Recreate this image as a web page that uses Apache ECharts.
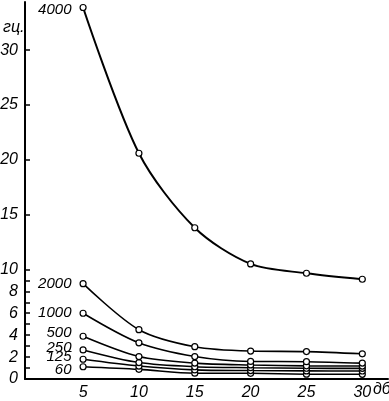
<!DOCTYPE html>
<html>
<head>
<meta charset="utf-8">
<style>html,body{margin:0;padding:0;background:#fff}#c{width:389px;height:401px}</style>
<script src="https://cdn.jsdelivr.net/npm/echarts@6/dist/echarts.min.js"></script>
</head>
<body>
<div id="c"></div>
<script>
const xValues = [5, 10, 15, 20, 25, 30];
const seriesNames = ['4000', '2000', '1000', '500', '250', '125', '60'];
const s4000 = [33.9, 20.6, 13.8, 10.5, 9.65, 9.1];
const s2000 = [8.7, 4.5, 2.95, 2.55, 2.5, 2.3];
const s1000 = [6.0, 3.3, 2.05, 1.6, 1.58, 1.45];
const s500 = [3.9, 2.05, 1.45, 1.28, 1.2, 1.18];
const s250 = [2.65, 1.5, 1.12, 1.03, 0.98, 0.97];
const s125 = [1.8, 1.18, 0.83, 0.77, 0.74, 0.73];
const s60 = [1.12, 0.88, 0.53, 0.52, 0.44, 0.43];
const yLabelValues = [0, 2, 4, 6, 8, 10, 15, 20, 25, 30];
const yTickValues = [0, 1, 2, 3, 4, 5, 6, 7, 8, 9, 10, 15, 20, 25, 30];
const xLabelValues = [5, 10, 15, 20, 25, 30];

const allData = [s4000, s2000, s1000, s500, s250, s125, s60];
const labelOffsets = [[0, 2], [0, 0], [0, 0], [0, -3], [0, -2], [0, -2], [0, 3]];
const font = "'Liberation Sans', Arial, sans-serif";

const chart = echarts.init(document.getElementById('c'), null, {renderer: 'canvas'});
const series = allData.map((vals, i) => ({
  name: seriesNames[i],
  type: 'line',
  smooth: 0.3,
  symbol: 'circle',
  symbolSize: 6,
  showAllSymbol: true,
  lineStyle: {color: '#000', width: i === 0 ? 2 : 1.6},
  itemStyle: {color: '#fff', borderColor: '#000', borderWidth: 1.2},
  data: xValues.map((x, j) => ({
    value: [x, vals[j]],
    label: j === 0 ? {
      show: true, position: 'left', distance: 8, offset: labelOffsets[i],
      formatter: seriesNames[i], color: '#000', fontSize: 15,
      fontStyle: 'italic', fontFamily: font
    } : {show: false}
  })),
  z: 10 - i
}));

chart.setOption({
  animation: false,
  backgroundColor: '#fff',
  grid: {left: 25, right: 1, top: 2, bottom: 22, containLabel: false, outerBoundsMode: 'none'},
  xAxis: {
    type: 'value', min: -0.2, max: 32.3,
    splitLine: {show: false},
    axisLine: {show: true, onZero: false, lineStyle: {color: '#000', width: 2}},
    axisTick: {show: false},
    axisLabel: {customValues: xLabelValues, color: '#000', fontSize: 16,
      fontStyle: 'italic', fontFamily: font, margin: 6}
  },
  yAxis: {
    type: 'value', min: 0, max: 34.4,
    splitLine: {show: false},
    axisLine: {show: true, onZero: false, lineStyle: {color: '#000', width: 2}},
    axisTick: {show: true, customValues: yTickValues, inside: true, length: 5,
      lineStyle: {color: '#000', width: 1.5}},
    axisLabel: {customValues: yLabelValues, color: '#000', fontSize: 16,
      fontStyle: 'italic', fontFamily: font, margin: 7}
  },
  graphic: [
    {type: 'text', left: 3, top: 20, style: {text: 'гц.', fill: '#000', fontSize: 16,
      fontStyle: 'italic', fontFamily: font}},
    {type: 'text', left: 373, top: 382, style: {text: 'дб', fill: '#000', fontSize: 16,
      fontStyle: 'italic', fontFamily: font}}
  ],
  series: series
});
</script>
</body>
</html>
